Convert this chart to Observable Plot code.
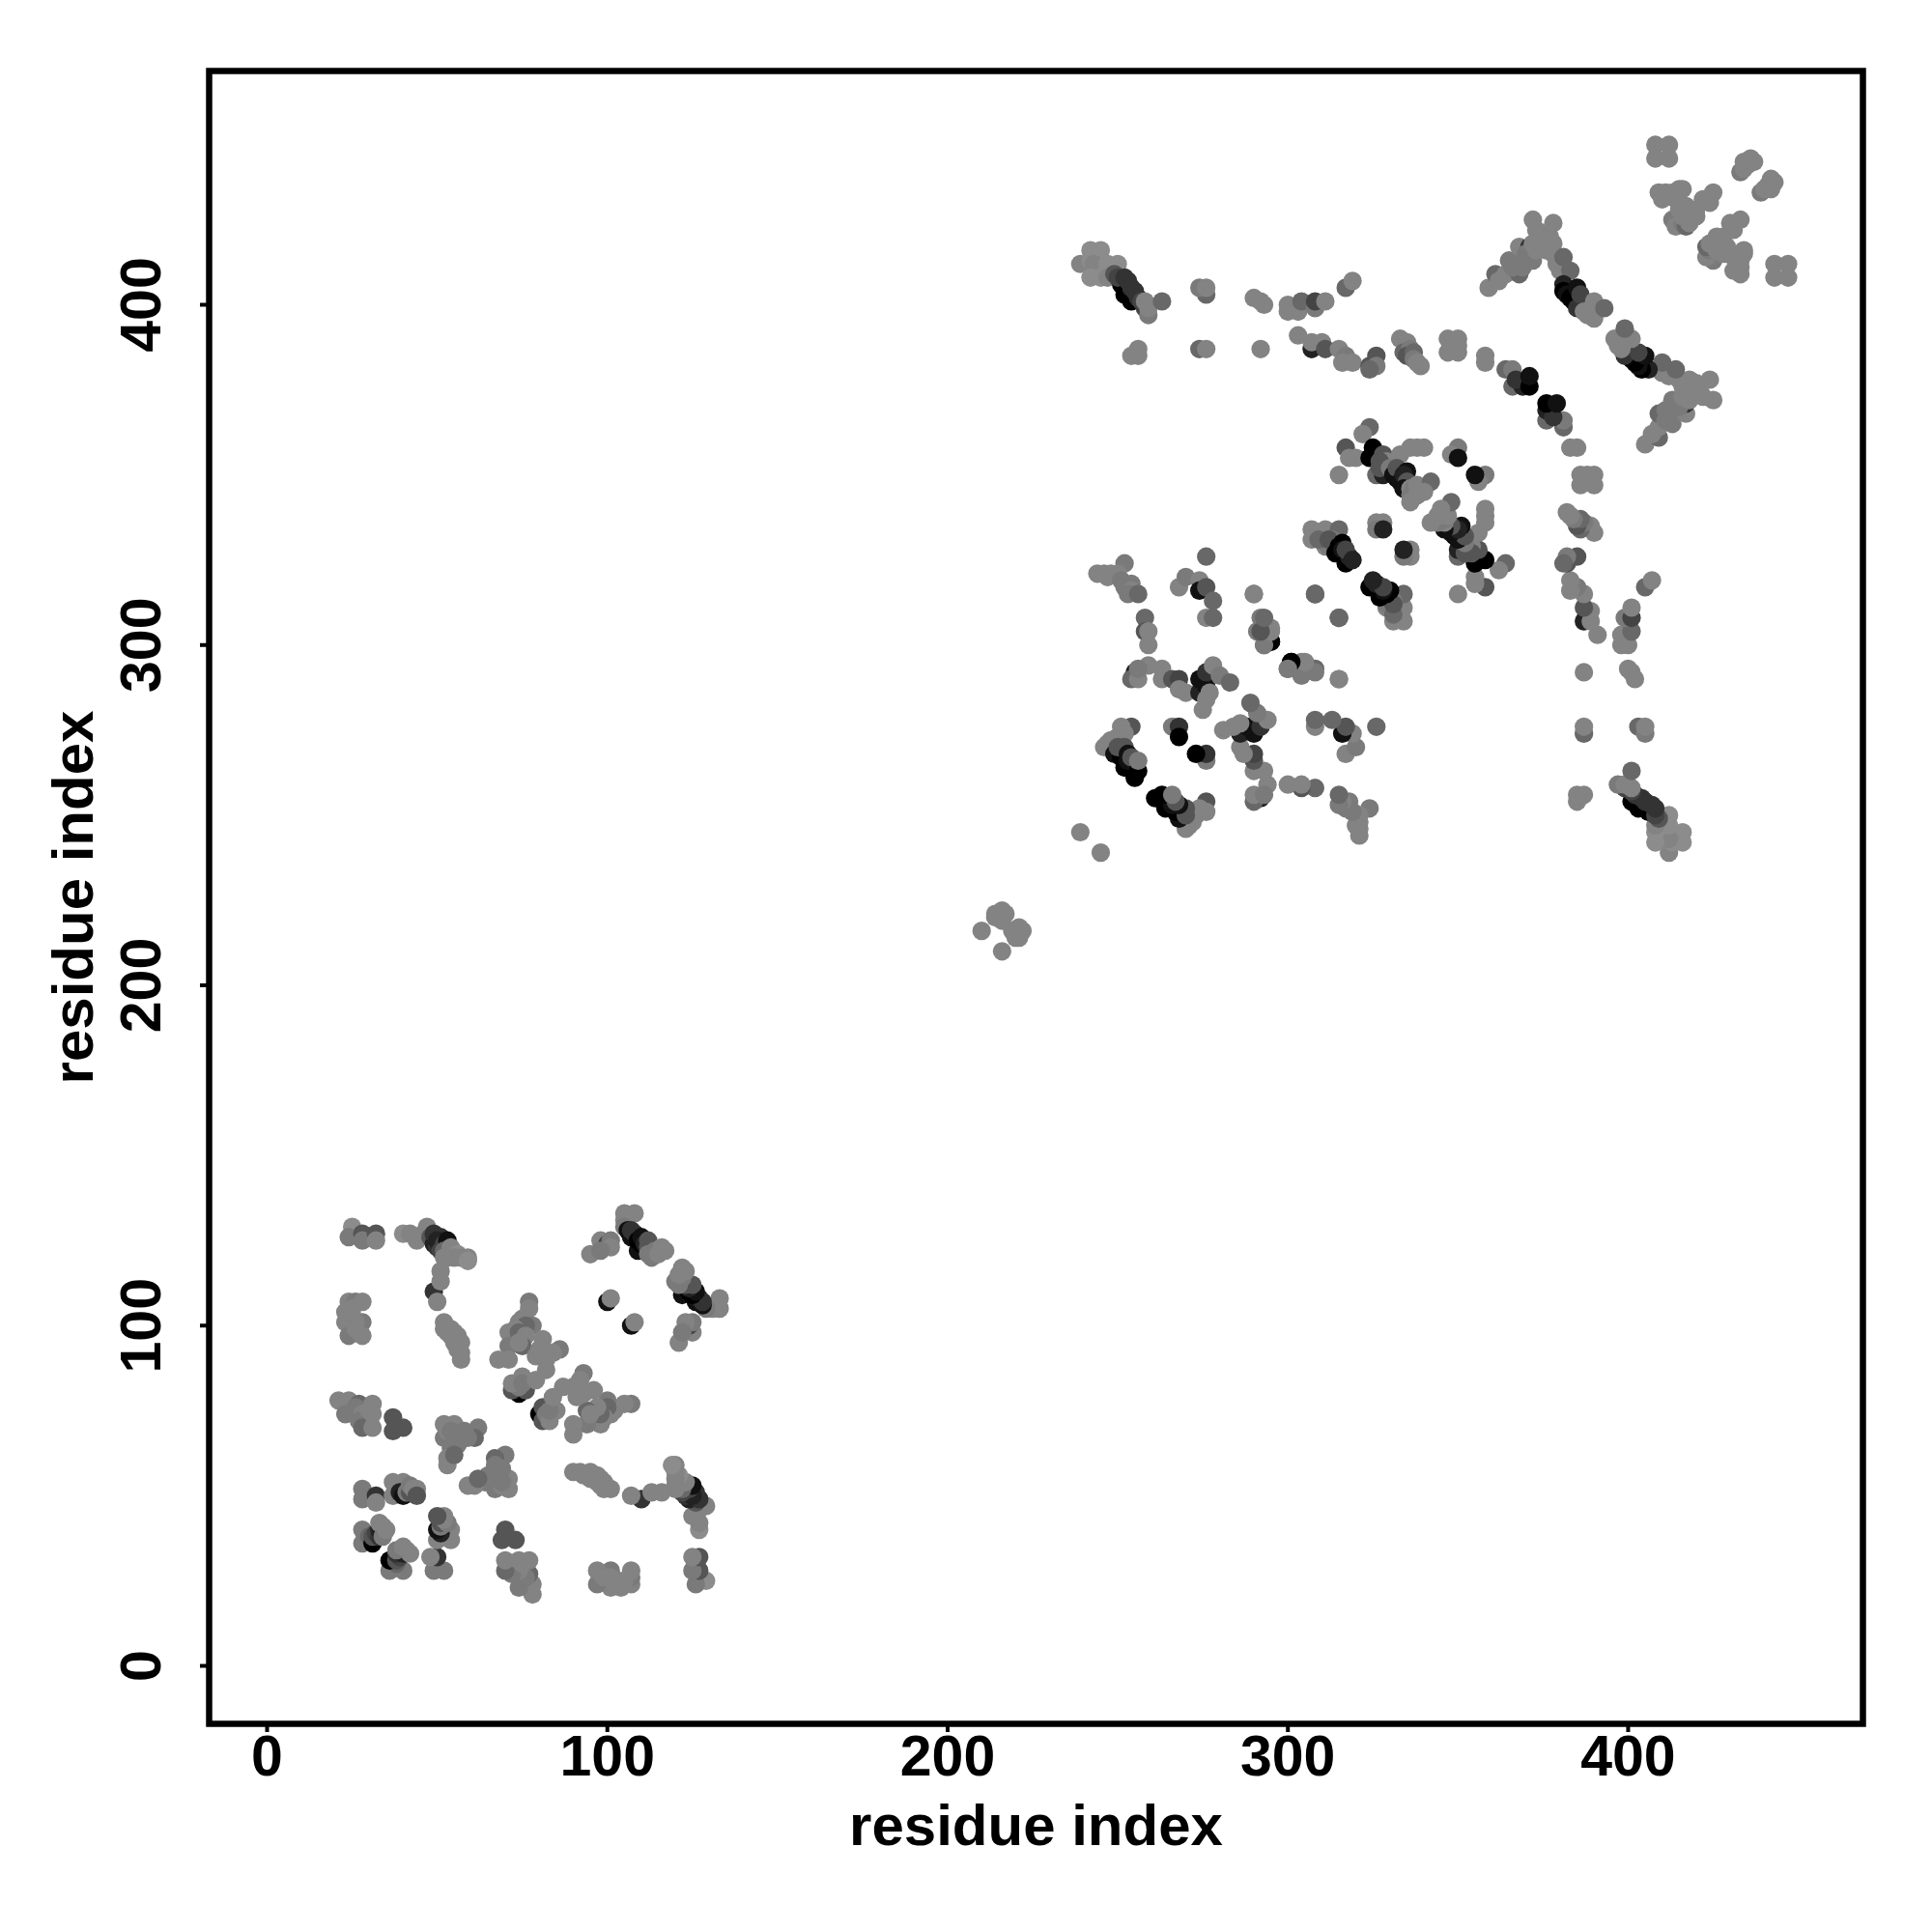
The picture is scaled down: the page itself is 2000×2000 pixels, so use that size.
<!DOCTYPE html>
<html><head><meta charset="utf-8">
<style>html,body{margin:0;padding:0;background:#fff}svg{display:block}</style>
<script src="https://cdn.jsdelivr.net/npm/d3@7"></script>
<script src="https://cdn.jsdelivr.net/npm/@observablehq/plot@0.6"></script>
</head><body><div id="chart"></div>
<script>
// Contacts [residue i, residue j, shade 0 (black) .. 9 (lightest gray)], i < j.
// The map is symmetric: a second dot mark draws each contact with its axes swapped.
const tickValues = [0, 100, 200, 300, 400];
const axisTitle = "residue index";
const cornerA = [[25,129,9],[24,126,7],[28,127,5],[28,125,7],[32,127,5],[32,125,8],[24,107,8],[26,107,7],[28,107,8],[23,104,8],[25,105,8],[25,103,8],[28,101,7],[26,101,8],[23,101,8],[24,97,7],[28,97,8],[26,99,8]];
const chainA = [[40,127,9],[42,127,8],[44,125,8],[46,127,8],[47,129,8],[48,126,5],[49,124,2],[50,123,3],[49,127,3],[51,126,3],[50,125,2],[52,124,4],[51,122,4],[53,125,1],[53,122,6],[52,122,6],[54,123,8],[54,121,8],[56,121,9],[55,120,8],[53,120,8],[57,120,8],[59,120,8],[59,119,9],[52,120,8],[49,110,3],[51,116,8],[51,113,8],[50,107,8],[52,101,8],[52,99,8],[53,98,8],[54,99,8],[55,98,8],[54,97,8],[56,97,8],[55,95,8],[57,95,8],[56,93,8],[57,92,8],[57,90,8]];
const centerA = [[74,80,0],[72,81,5],[76,81,5],[74,82,7],[77,107,7],[77,105,8],[75,102,8],[74,101,8],[78,100,7],[76,100,6],[71,98,8],[73,99,8],[74,98,6],[76,97,8],[81,96,8],[71,94,7],[75,94,6],[74,95,8],[86,93,7],[84,92,8],[82,92,8],[68,90,8],[71,90,8],[79,91,8],[82,90,8],[80,93,8],[82,87,8],[75,85,8],[72,83,8],[75,83,7],[79,84,8]];
const chainB = [[105,133,8],[108,133,8],[105,131,8],[105,129,7],[98,125,8],[95,121,8],[100,124,4],[101,125,7],[101,123,8],[98,122,7],[106,128,1],[107,126,1],[109,122,1],[108,127,2],[107,128,3],[109,125,0],[110,124,0],[110,126,1],[111,124,2],[112,125,5],[112,123,5],[114,122,7],[113,120,7],[112,121,7],[116,123,8],[115,121,8],[117,122,8],[100,107,1],[101,108,8]];
const midLeftA = [[21,78,8],[24,78,8],[27,77,6],[23,74,7],[26,76,7],[31,77,8],[28,74,8],[27,72,7],[29,72,7],[30,75,8],[28,70,6],[31,70,8],[31,74,8],[37,73,5],[37,69,5],[40,70,5],[52,71,8],[55,71,8],[62,70,7],[61,67,6],[52,67,7],[55,67,6],[59,67,7],[57,69,8],[58,69,7],[53,69,8],[54,69,7],[56,65,7],[54,64,7],[53,61,8],[53,59,8],[55,62,6]];
const lowerA = [[28,52,7],[28,49,7],[32,50,3],[32,48,8],[37,54,8],[40,54,8],[37,50,8],[38,52,8],[41,53,8],[39,51,2],[40,50,1],[41,51,7],[42,51,5],[42,53,7],[43,52,8],[44,52,8],[44,50,5],[28,40,7],[28,36,7],[30,38,6],[31,36,0],[31,38,5],[32,39,4],[33,38,3],[33,40,2],[33,42,8],[34,41,8],[34,38,7],[35,40,8]];
const islandC = [[214,221,8],[216,222,8],[217,221,8],[214,220,8],[216,219,8],[210,216,8],[239,245,8]];
const topRowB = [[242,416,9],[245,416,9],[239,412,8],[242,413,9],[243,412,8],[242,408,9],[245,408,9],[247,412,9],[250,412,9],[247,408,8],[251,406,0],[252,403,0],[254,401,0],[249,409,5],[250,408,4],[252,408,3],[253,407,3],[254,405,3],[255,404,3],[256,402,3],[257,401,4],[258,399,4],[259,397,7],[258,401,8],[259,399,8],[263,401,6],[276,403,6],[274,405,7],[276,405,8],[290,402,8],[292,401,8],[293,400,8],[300,400,8],[300,398,8],[303,398,8],[304,401,6],[308,399,7],[308,401,4],[311,401,8],[317,405,6],[319,407,8]];
const rowB2 = [[256,387,8],[254,385,8],[256,385,8],[274,387,6],[276,387,8],[292,387,8],[303,391,8],[307,387,2],[307,389,8],[310,389,8],[311,387,5],[315,387,8],[317,385,7],[316,383,8],[319,383,8],[326,385,5],[324,382,5],[326,382,7],[324,381,6],[333,390,8],[335,389,8],[335,387,8],[334,386,6],[336,387,7],[335,385,5],[337,386,6],[337,384,7],[338,383,8],[339,382,8],[347,390,8],[350,390,8],[348,388,8],[350,388,8],[347,386,8],[350,386,8],[358,385,8],[358,383,8]];
const chainC = [[364,381,6],[366,381,7],[366,376,6],[369,376,2],[367,378,3],[371,376,0],[371,379,1],[359,405,8],[361,409,6],[362,407,8],[364,409,8],[368,409,6],[365,413,7],[366,411,7],[369,411,7],[368,413,7],[372,413,7],[368,417,8],[371,417,3],[370,415,7],[372,418,8],[373,416,8],[376,416,8],[372,425,8],[373,422,8],[375,421,8],[377,420,8],[378,424,8],[378,418,8],[378,415,8],[379,412,8],[380,410,8],[381,414,6],[383,410,6],[381,406,2],[381,404,0],[382,403,1],[383,402,0],[384,401,0],[385,405,1],[385,399,3],[386,403,4],[387,398,8],[388,397,8],[390,396,8],[390,401,8],[391,399,8],[393,399,6]];
const cornerD = [[408,447,8],[412,447,8],[408,443,8],[412,443,8],[409,433,8],[411,433,8],[413,433,8],[415,434,8],[416,434,8],[410,431,8],[414,431,8],[413,425,7],[414,423,8],[416,424,7],[417,423,6],[418,424,8],[416,426,8],[415,428,8],[417,429,8],[418,428,8],[420,428,8],[420,426,8],[422,431,8],[425,433,8],[424,430,8],[434,442,8],[433,439,7],[434,440,8],[435,441,8],[436,443,8],[437,442,8]];
const blockE = [[252,324,7],[244,321,8],[246,321,8],[248,321,8],[250,321,8],[247,320,8],[251,319,7],[254,318,7],[253,317,7],[252,317,7],[254,316,8],[253,315,7],[256,315,6],[276,326,6],[268,317,8],[270,320,7],[274,319,8],[274,316,1],[276,317,5],[278,313,6],[276,308,8],[278,308,6],[290,315,8],[292,308,7],[291,304,7],[295,305,8],[295,301,0],[293,300,7],[301,295,0],[300,293,7],[304,295,8],[304,292,5],[308,293,6],[308,315,7],[315,308,6],[315,290,8],[258,308,6],[258,304,5],[259,304,8],[259,300,8]];
const blockF = [[255,292,2],[254,290,6],[256,290,8],[259,294,8],[256,293,7],[263,293,8],[263,290,8],[266,290,5],[268,290,4],[268,287,8],[270,286,8],[274,286,2],[274,290,1],[276,288,1],[276,292,3],[278,294,8],[280,291,7],[283,289,6],[277,286,8],[276,284,8],[275,281,8],[254,276,5],[251,276,8],[252,274,8],[250,273,8],[249,272,8],[248,272,8],[247,271,8],[246,270,8],[249,268,1],[251,267,0],[252,264,0],[254,264,0],[255,262,0],[250,270,5],[252,270,5],[253,268,1],[253,266,1],[254,267,5],[256,263,0],[255,261,0],[256,266,7],[266,276,7],[268,276,3],[268,273,0]];
const blockG = [[324,364,6],[322,362,8],[317,358,5],[318,355,8],[320,355,8],[315,350,8],[324,355,0],[325,358,0],[328,356,5],[329,354,8],[327,354,5],[326,350,6],[328,350,2],[327,352,5],[336,358,8],[333,356,8],[338,358,8],[340,358,8],[330,352,7],[332,349,0],[331,350,1],[332,352,5],[335,351,1],[333,348,1],[334,350,2],[335,348,5],[334,346,1],[336,346,8],[337,346,7],[336,344,7],[338,344,8],[336,342,8],[338,347,8],[339,346,8],[342,348,6],[340,345,8],[350,358,7],[348,356,8],[350,355,1]];
const blockH = [[307,334,8],[311,334,8],[315,334,6],[307,331,8],[309,333,8],[310,331,8],[311,329,8],[312,329,7],[313,331,7],[309,331,6],[312,331,5],[314,327,0],[316,330,0],[315,329,0],[316,328,1],[317,324,0],[318,326,2],[317,328,4],[319,325,2],[326,336,8],[328,336,8],[326,334,7],[328,334,2],[308,315,6]];
const clusters = [cornerA, chainA, centerA, chainB, midLeftA, lowerA, islandC, topRowB, rowB2, chainC, cornerD, blockE, blockF, blockG, blockH];
const contacts = clusters.flat();

const plot = Plot.plot({
  width: 2000, height: 2000,
  marginLeft: 216, marginRight: 72, marginTop: 73, marginBottom: 216,
  style: {fontFamily: "Liberation Sans", fontWeight: "bold", background: "#fff", color: "#000"},
  x: {domain: [-17.03, 469], label: null},
  y: {domain: [-17.03, 468.7], label: null},
  color: {type: "linear", domain: [0, 5, 7, 9], range: ["#000000", "#555555", "#7a7a7a", "#8c8c8c"]},
  marks: [
    Plot.dot(contacts, {x: d => d[0], y: d => d[1], fill: d => d[2], r: 9.6}),
    Plot.dot(contacts, {x: d => d[1], y: d => d[0], fill: d => d[2], r: 9.6}),
    Plot.axisX({ticks: tickValues, tickFormat: d => d, tickSize: 9, tickPadding: 3, fontSize: 59, strokeWidth: 4, label: null}),
    Plot.axisX({ticks: [], fontSize: 60, label: axisTitle, labelAnchor: "center", labelArrow: "none", labelOffset: 125}),
    Plot.axisY({ticks: tickValues, tickFormat: d => d, tickSize: 9, tickPadding: 42, tickRotate: -90, fontSize: 59, strokeWidth: 4, label: null}),
    Plot.axisY({ticks: [], fontSize: 60, label: axisTitle, labelAnchor: "center", labelArrow: "none", labelOffset: 163}),
    Plot.frame({stroke: "#000", strokeWidth: 6.5})
  ]
});
document.getElementById("chart").appendChild(plot);
</script></body></html>
